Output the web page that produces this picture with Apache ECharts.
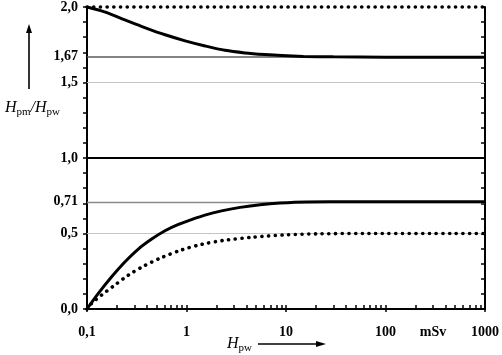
<!DOCTYPE html>
<html><head><meta charset="utf-8">
<script src="https://cdn.jsdelivr.net/npm/echarts@6/dist/echarts.min.js"></script>
<style>html,body{margin:0;padding:0;background:#fff}#c{width:502px;height:355px}</style>
</head><body><div id="c"></div>
<script>
// ---- data ----
const upperSolidX = [0.1, 0.15, 0.24, 0.38, 0.61, 0.97, 1.54, 2.44, 3.87, 6.1, 9.1, 15, 30, 100, 1000];
const upperSolidY = [2.0, 1.968, 1.915, 1.864, 1.816, 1.776, 1.742, 1.713, 1.696, 1.685, 1.678, 1.673, 1.670, 1.668, 1.667];
const upperDotX = [0.1, 1000];
const upperDotY = [2.0, 2.0];
const lowerSolidX = [0.1, 0.13, 0.177, 0.24, 0.328, 0.447, 0.608, 0.83, 1.12, 1.53, 2.25, 3.46, 5.5, 8.7, 16, 47, 1000];
const lowerSolidY = [0, 0.103, 0.213, 0.311, 0.397, 0.463, 0.518, 0.560, 0.592, 0.622, 0.650, 0.673, 0.691, 0.702, 0.709, 0.71, 0.71];
const lowerDotX = [0.1, 0.111, 0.14, 0.19, 0.26, 0.368, 0.56, 0.89, 1.42, 2.35, 4.7, 10, 22, 60, 1000];
const lowerDotY = [0, 0.037, 0.092, 0.158, 0.224, 0.283, 0.34, 0.391, 0.428, 0.454, 0.476, 0.491, 0.498, 0.5, 0.5];

const yTickValues = [0, 0.5, 0.71, 1.0, 1.5, 1.67, 2.0];
const yTickLabels = ['0,0', '0,5', '0,71', '1,0', '1,5', '1,67', '2,0'];
const xTickValues = [0.1, 1, 10, 100, 1000];
const xTickLabels = ['0,1', '1', '10', '100', '1000'];
const unitValue = [300];
const unitLabel = 'mSv';

// reference (grid) lines: value, colour, width
const refLineValues = [0.5, 0.71, 1.0, 1.5, 1.67];
const refLineColors = ['#c4c4c4', '#8a8a8a', '#000000', '#c4c4c4', '#5a5a5a'];
const refLineWidths = [1, 1.3, 2, 1, 1.6];

// ---- build ----
const pairs = (xs, ys) => xs.map((x, i) => [x, ys[i]]);
const yMinorTicks = [];
for (let i = 0; i <= 20; i++) yMinorTicks.push(+(i / 10).toFixed(1));
const xMinorTicks = [];
[0.1, 1, 10, 100].forEach(d => { for (let k = 1; k <= 9; k++) xMinorTicks.push(+(d * k).toPrecision(3)); });
xMinorTicks.push(1000);

const FONT = 'Liberation Serif';
const lbl = {fontFamily: FONT, fontWeight: 'bold', fontSize: 14, color: '#000'};

const chart = echarts.init(document.getElementById('c'), null, {renderer: 'canvas'});
const dotted = {type: [0.1, 6.6], cap: 'round', width: 3.6, color: '#000'};
const solid = {type: 'solid', width: 3, color: '#000'};
const titleRich = {h: {fontFamily: FONT, fontStyle: 'italic', fontSize: 16, fill: '#000'},
                   s: {fontFamily: FONT, fontSize: 11, fill: '#000', padding: [8, 0, 0, 0]}};

chart.setOption({
  animation: false,
  backgroundColor: '#fff',
  grid: {left: 87, right: 17, top: 5, bottom: 46},
  xAxis: [
    {type: 'log', logBase: 10, min: 0.1, max: 1000, position: 'bottom',
     axisLine: {show: true, lineStyle: {color: '#000', width: 2}},
     axisTick: {show: true, inside: true, length: 4, lineStyle: {color: '#000', width: 1.5}, customValues: xMinorTicks},
     minorTick: {show: false}, splitLine: {show: false},
     axisLabel: {show: true, margin: 16, ...lbl, customValues: xTickValues,
       formatter: v => { const i = xTickValues.findIndex(t => Math.abs(Math.log10(t) - Math.log10(v)) < 1e-6); return i >= 0 ? xTickLabels[i] : ''; }}},
    {type: 'log', logBase: 10, min: 0.1, max: 1000, position: 'bottom',
     axisLine: {show: false},
     axisTick: {show: true, inside: false, length: 3, lineStyle: {color: '#000', width: 1.5}, customValues: xTickValues},
     splitLine: {show: false},
     axisLabel: {show: true, margin: 16, ...lbl, customValues: unitValue, formatter: () => unitLabel}}
  ],
  yAxis: [
    {type: 'value', min: 0, max: 2, position: 'left',
     axisLine: {show: true, lineStyle: {color: '#000', width: 2}},
     axisTick: {show: true, inside: false, length: 4, lineStyle: {color: '#000', width: 1.5}, customValues: yMinorTicks},
     splitLine: {show: false},
     axisLabel: {show: true, margin: 9, ...lbl, customValues: yTickValues,
       formatter: v => { const i = yTickValues.findIndex(t => Math.abs(t - v) < 1e-6); return i >= 0 ? yTickLabels[i] : ''; }}},
    {type: 'value', min: 0, max: 2, position: 'right',
     axisLine: {show: true, lineStyle: {color: '#000', width: 2}},
     axisTick: {show: true, inside: true, length: 4, lineStyle: {color: '#000', width: 1.5}, customValues: yMinorTicks},
     splitLine: {show: false}, axisLabel: {show: false}}
  ],
  series: [
    {type: 'line', name: 'ref', xAxisIndex: 0, yAxisIndex: 0, data: [], silent: true, z: 1,
     markLine: {silent: true, symbol: 'none', z: 1, label: {show: false}, animation: false,
       data: refLineValues.map((v, i) => ({yAxis: v, lineStyle: {type: 'solid', color: refLineColors[i], width: refLineWidths[i]}}))}},
    {type: 'line', name: 'upperDot', data: pairs(upperDotX, upperDotY), showSymbol: false, clip: false, lineStyle: dotted, z: 3},
    {type: 'line', name: 'upperSolid', data: pairs(upperSolidX, upperSolidY), showSymbol: false, clip: false, smooth: 0.3, lineStyle: solid, z: 3},
    {type: 'line', name: 'lowerSolid', data: pairs(lowerSolidX, lowerSolidY), showSymbol: false, clip: false, smooth: 0.3, lineStyle: solid, z: 3},
    {type: 'line', name: 'lowerDot', data: pairs(lowerDotX, lowerDotY), showSymbol: false, clip: false, smooth: 0.3, lineStyle: dotted, z: 3}
  ],
  graphic: [
    {type: 'text', left: 5, top: 100, style: {text: '{h|H}{s|pm}{h|/H}{s|pw}', rich: titleRich}},
    {type: 'line', shape: {x1: 29, y1: 89, x2: 29, y2: 31}, style: {stroke: '#000', lineWidth: 1.6}},
    {type: 'polygon', shape: {points: [[29, 24], [26, 33], [32, 33]]}, style: {fill: '#000'}},
    {type: 'text', left: 227, top: 336, style: {text: '{h|H}{s|pw}', rich: titleRich}},
    {type: 'line', shape: {x1: 258, y1: 344, x2: 318, y2: 344}, style: {stroke: '#000', lineWidth: 1.6}},
    {type: 'polygon', shape: {points: [[326, 344], [316, 341], [316, 347]]}, style: {fill: '#000'}}
  ]
});
</script></body></html>
